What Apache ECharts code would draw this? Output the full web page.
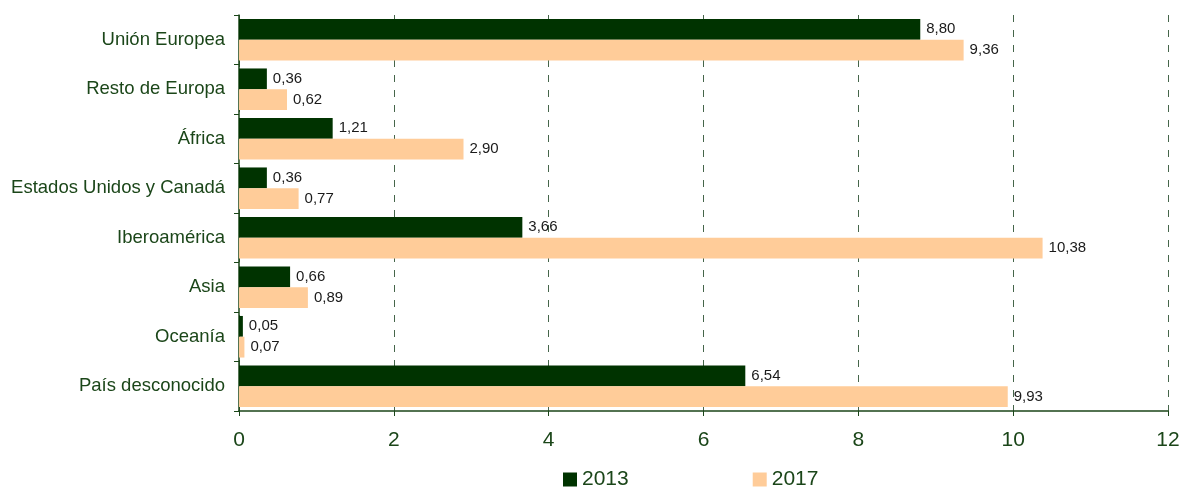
<!DOCTYPE html>
<html>
<head>
<meta charset="utf-8">
<script src="https://cdn.jsdelivr.net/npm/echarts@6/dist/echarts.min.js"></script>
<style>
    html, body { margin: 0; padding: 0; background: #fff; }
    #chart { width: 1183px; height: 487px; }
</style>
</head>
<body>
<div id="chart"></div>
<script>
    var categories = ['Unión Europea', 'Resto de Europa', 'África', 'Estados Unidos y Canadá',
        'Iberoamérica', 'Asia', 'Oceanía', 'País desconocido'];
    var values2013 = [8.80, 0.36, 1.21, 0.36, 3.66, 0.66, 0.05, 6.54];
    var values2017 = [9.36, 0.62, 2.90, 0.77, 10.38, 0.89, 0.07, 9.93];
    var xTicks = [0, 2, 4, 6, 8, 10, 12];

    var green = '#1b4619';
    var chart = echarts.init(document.getElementById('chart'));

    function label () {
        return {
            show: true,
            position: 'right',
            distance: 6,
            color: '#1a1a1a',
            fontFamily: 'Liberation Sans, Arial',
            fontSize: 15,
            formatter: function (p) {
                return p.value.toFixed(2).replace('.', ',');
            }
        };
    }

    var option = {
        animation: false,
        grid: { left: 239, right: 15, top: 15, bottom: 76 },
        legend: {
            top: 464,
            left: 558,
            itemWidth: 14,
            itemHeight: 14,
            itemGap: 124,
            icon: 'rect',
            textStyle: { color: green, fontSize: 21, fontFamily: 'Liberation Sans, Arial' },
            data: ['2013', '2017']
        },
        xAxis: {
            type: 'value',
            min: 0,
            max: 12,
            interval: 2,
            axisLine: { show: true, lineStyle: { color: green, width: 1.5 } },
            axisTick: { show: true, length: 5, lineStyle: { color: green } },
            axisLabel: {
                color: green, fontSize: 21, margin: 19, fontFamily: 'Liberation Sans, Arial',
                formatter: function (v) { return xTicks.indexOf(v) >= 0 ? String(v) : ''; }
            },
            splitLine: { show: true, lineStyle: { color: '#45654a', type: [7, 8], width: 1 } }
        },
        yAxis: {
            type: 'category',
            inverse: true,
            data: categories,
            axisLine: { show: true, lineStyle: { color: green, width: 1.5 } },
            axisTick: { show: true, length: 5, lineStyle: { color: green } },
            axisLabel: { color: green, fontSize: 18.5, margin: 14, fontFamily: 'Liberation Sans, Arial' }
        },
        series: [
            {
                name: '2013',
                type: 'bar',
                data: values2013,
                barGap: '0%',
                barCategoryGap: '16%',
                itemStyle: { color: '#003300' },
                label: label()
            },
            {
                name: '2017',
                type: 'bar',
                data: values2017,
                itemStyle: { color: '#ffcc99' },
                label: label()
            }
        ]
    };
    chart.setOption(option);
</script>
</body>
</html>
